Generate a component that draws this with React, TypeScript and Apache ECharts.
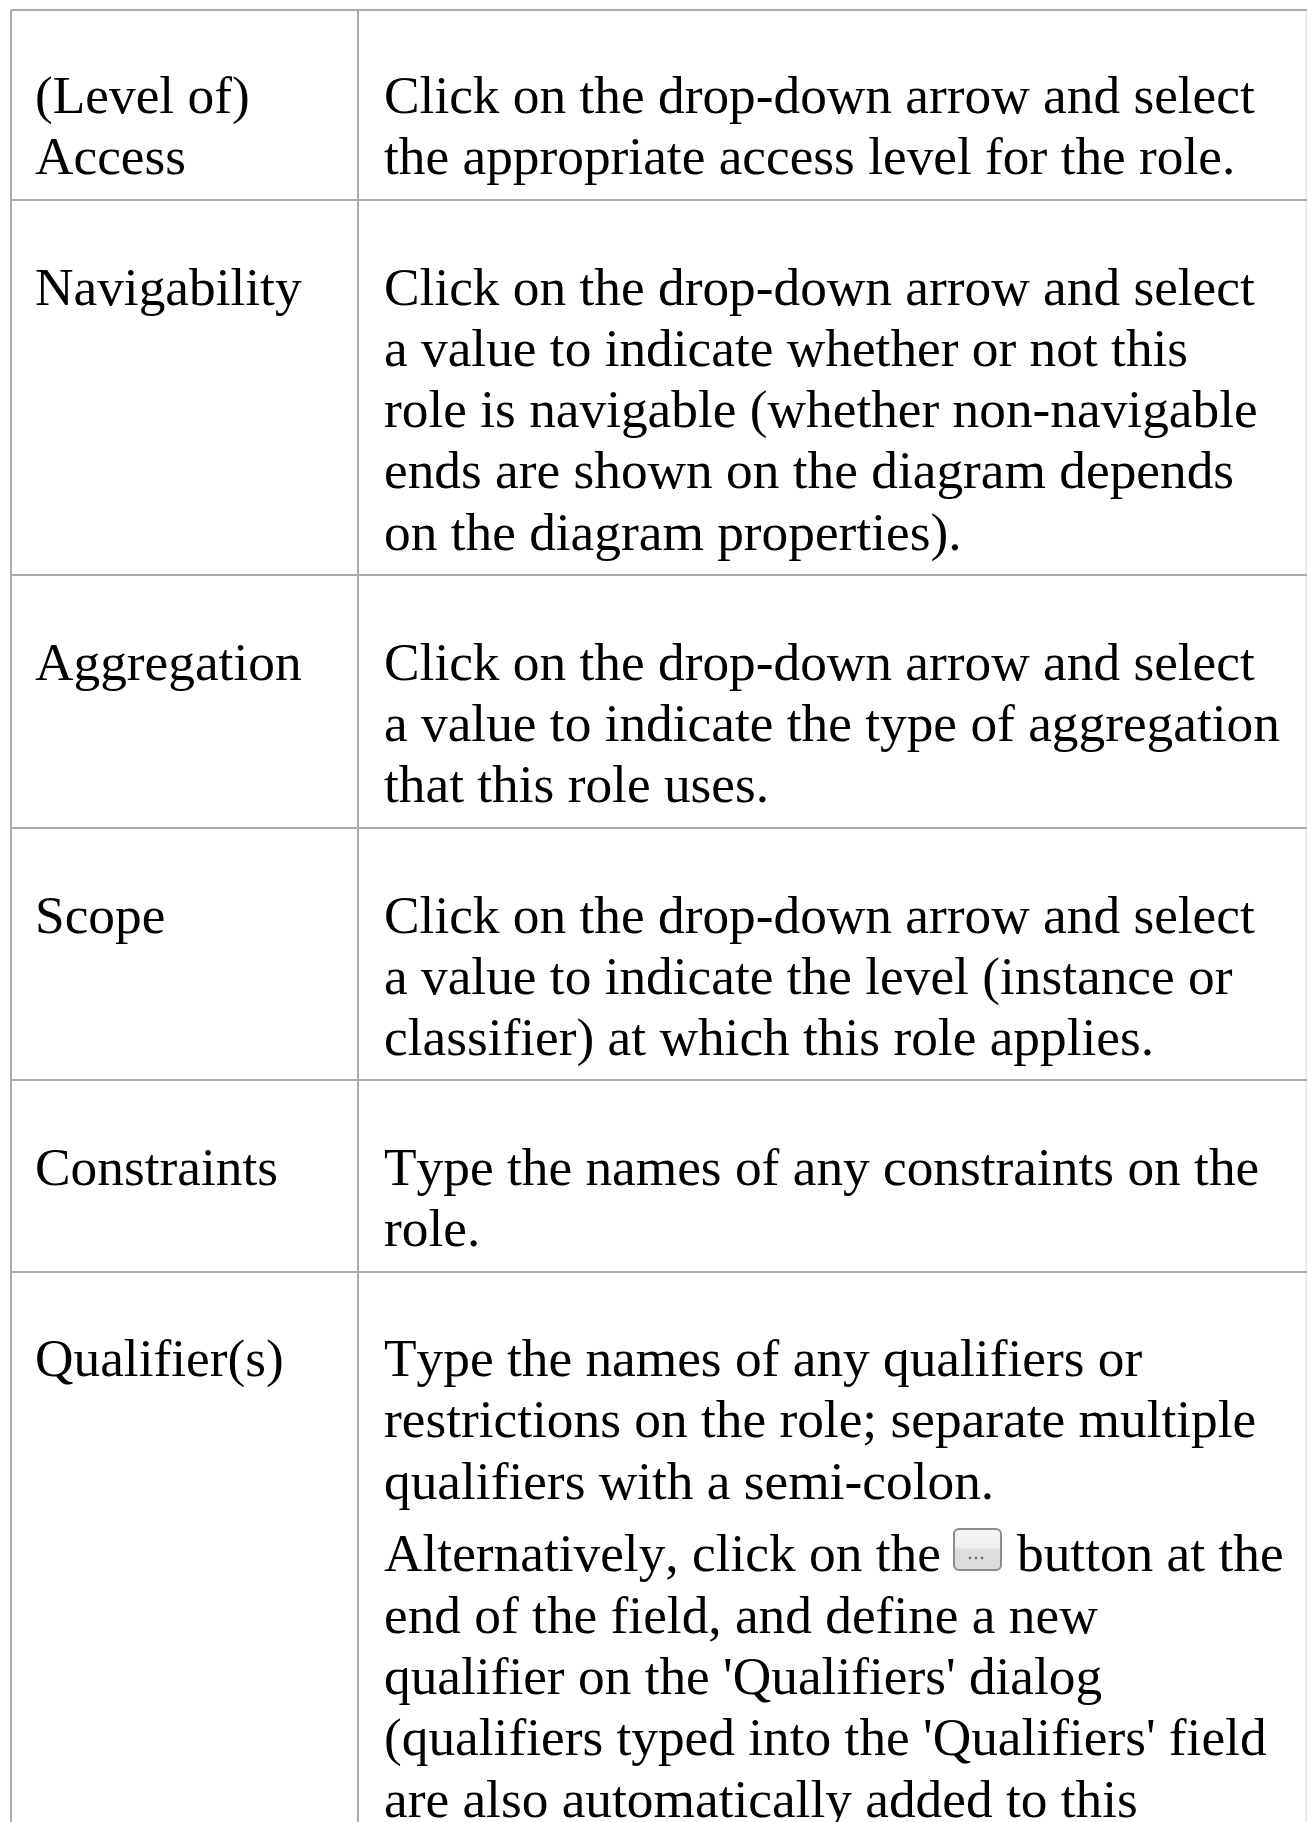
import React, { useEffect, useRef } from "react";
import * as echarts from "echarts";

const rowLabels: string[][] = [
  ["(Level of)", "Access"],
  ["Navigability"],
  ["Aggregation"],
  ["Scope"],
  ["Constraints"],
  ["Qualifier(s)"],
];

const rowDescriptions: string[][] = [
  ["Click on the drop-down arrow and select", "the appropriate access level for the role."],
  [
    "Click on the drop-down arrow and select",
    "a value to indicate whether or not this",
    "role is navigable (whether non-navigable",
    "ends are shown on the diagram depends",
    "on the diagram properties).",
  ],
  [
    "Click on the drop-down arrow and select",
    "a value to indicate the type of aggregation",
    "that this role uses.",
  ],
  [
    "Click on the drop-down arrow and select",
    "a value to indicate the level (instance or",
    "classifier) at which this role applies.",
  ],
  ["Type the names of any constraints on the", "role."],
  [
    "Type the names of any qualifiers or",
    "restrictions on the role; separate multiple",
    "qualifiers with a semi-colon.",
  ],
];

const lastParagraphFirst = ["Alternatively, click on the", "button at the"];
const lastParagraphRest = [
  "end of the field, and define a new",
  "qualifier on the 'Qualifiers' dialog",
  "(qualifiers typed into the 'Qualifiers' field",
  "are also automatically added to this",
];

const rowLineY = [10, 200, 575, 828, 1080, 1272];
const rowFirstBase = [102, 104, 104, 104, 104, 103.5];
const FONT = "'Liberation Serif', 'Times New Roman', serif";
const FS = 53.33;
const LH = 61.3;
const LEFT = 11;
const MID = 358;
const LX = 35;
const DX = 384;
const BORDER = "#ababab";

function txt(s: string, x: number, base: number) {
  return {
    type: "text",
    x,
    y: base + 9,
    silent: true,
    style: { text: s, font: `${FS}px ${FONT}`, fill: "#000", textAlign: "left", verticalAlign: "bottom" },
  };
}

function line(x1: number, y1: number, x2: number, y2: number, stroke = BORDER) {
  return { type: "line", silent: true, shape: { x1, y1, x2, y2 }, style: { stroke, lineWidth: 2 } };
}

export default function App() {
  const ref = useRef<HTMLDivElement>(null);
  useEffect(() => {
    document.body.style.margin = "0";
    document.body.style.overflow = "hidden";
    const chart = echarts.init(ref.current!, null, { renderer: "svg" });
    const els: any[] = [];
    els.push(line(1306.5, 10, 1306.5, 1822, "#e4e4e4"));
    els.push(line(LEFT, 10, LEFT, 1822));
    els.push(line(MID, 10, MID, 1822));
    rowLineY.forEach((y) => els.push(line(LEFT, y, 1307, y)));
    rowLabels.forEach((ls, r) => ls.forEach((s, i) => els.push(txt(s, LX, rowLineY[r] + rowFirstBase[r] + i * LH))));
    rowDescriptions.forEach((ls, r) => ls.forEach((s, i) => els.push(txt(s, DX, rowLineY[r] + rowFirstBase[r] + i * LH))));
    const pBase = 1570;
    els.push(txt(lastParagraphFirst[0], DX, pBase));
    els.push(txt(lastParagraphFirst[1], 1017, pBase));
    lastParagraphRest.forEach((s, i) => els.push(txt(s, DX, 1571 + (i + 1) * LH)));
    els.push({
      type: "rect",
      silent: true,
      shape: { x: 954, y: 1529, width: 47, height: 41, r: 5 },
      style: {
        stroke: "#8c8c8c",
        lineWidth: 2,
        fill: {
          type: "linear", x: 0, y: 0, x2: 0, y2: 1,
          colorStops: [
            { offset: 0, color: "#f6f6f6" },
            { offset: 0.45, color: "#eeeeee" },
            { offset: 0.5, color: "#dfdfdf" },
            { offset: 1, color: "#dadada" },
          ],
        },
      },
    });
    [970, 976, 982].forEach((cx) =>
      els.push({ type: "circle", silent: true, shape: { cx, cy: 1558, r: 1.3 }, style: { fill: "#6f5f8f" } })
    );
    chart.setOption({ animation: false, backgroundColor: "#fff", graphic: { elements: els } });
    return () => chart.dispose();
  }, []);
  return (
    <>
      <style>{"svg text { font-kerning: none !important; }"}</style>
      <div ref={ref} style={{ width: 1307, height: 1822 }} />
    </>
  );
}
